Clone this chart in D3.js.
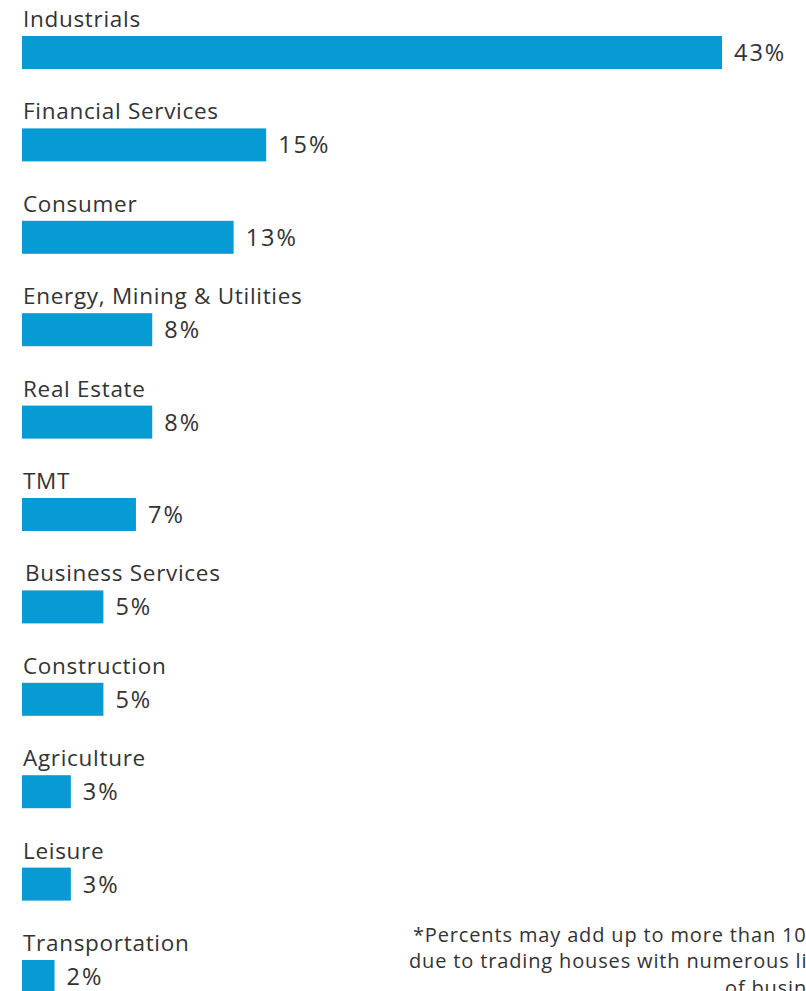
<!DOCTYPE html>
<html>
<head>
<meta charset="utf-8">
<script src="https://cdn.jsdelivr.net/npm/d3@7"></script>
<style>
  html, body { margin: 0; padding: 0; background: #fff; overflow: hidden; }
  svg { display: block; }
  text { font-family: "Open Sans", "Noto Sans", sans-serif; fill: #333; }
</style>
</head>
<body>
<div id="chart"></div>
<script>
const categories = ["Industrials", "Financial Services", "Consumer", "Energy, Mining & Utilities",
  "Real Estate", "TMT", "Business Services", "Construction", "Agriculture", "Leisure", "Transportation"];
const values = [43, 15, 13, 8, 8, 7, 5, 5, 3, 3, 2];
const valueLabels = ["43%", "15%", "13%", "8%", "8%", "7%", "5%", "5%", "3%", "3%", "2%"];
const footnoteLines = ["*Percents may add up to more than 100%", "due to trading houses with numerous lines", "of business"];

const W = 806, H = 991;
const svg = d3.select("#chart").append("svg").attr("width", W).attr("height", H);

const x = d3.scaleLinear().domain([0, 43]).range([22, 722]);
const step = 92.4, bh = 33;
const y = d3.scalePoint().domain(categories).range([36, 36 + step * (categories.length - 1)]);

const rows = svg.append("g").selectAll("g.row").data(categories).enter().append("g").attr("class", "row");

rows.append("rect")
  .attr("x", x(0))
  .attr("y", d => y(d))
  .attr("width", (d, i) => x(values[i]) - x(0))
  .attr("height", bh)
  .attr("fill", "#069cd3");

rows.append("text")
  .attr("x", d => d === "Business Services" ? 25 : 23)
  .attr("y", d => y(d) - 9)
  .attr("font-size", 22.5)
  .attr("letter-spacing", 0.7)
  .text(d => d);

rows.append("text")
  .attr("x", (d, i) => x(values[i]) + 12)
  .attr("y", d => y(d) + bh / 2 + 8.5)
  .attr("font-size", 23.5)
  .attr("letter-spacing", 2)
  .text((d, i) => valueLabels[i]);

const fx = [413, 409, 725];
const fy = [942, 968, 995];
svg.append("g").selectAll("text").data(footnoteLines).enter().append("text")
  .attr("x", (d, i) => fx[i])
  .attr("y", (d, i) => fy[i])
  .attr("font-size", 20)
  .attr("letter-spacing", 0.85)
  .text(d => d);
</script>
</body>
</html>
